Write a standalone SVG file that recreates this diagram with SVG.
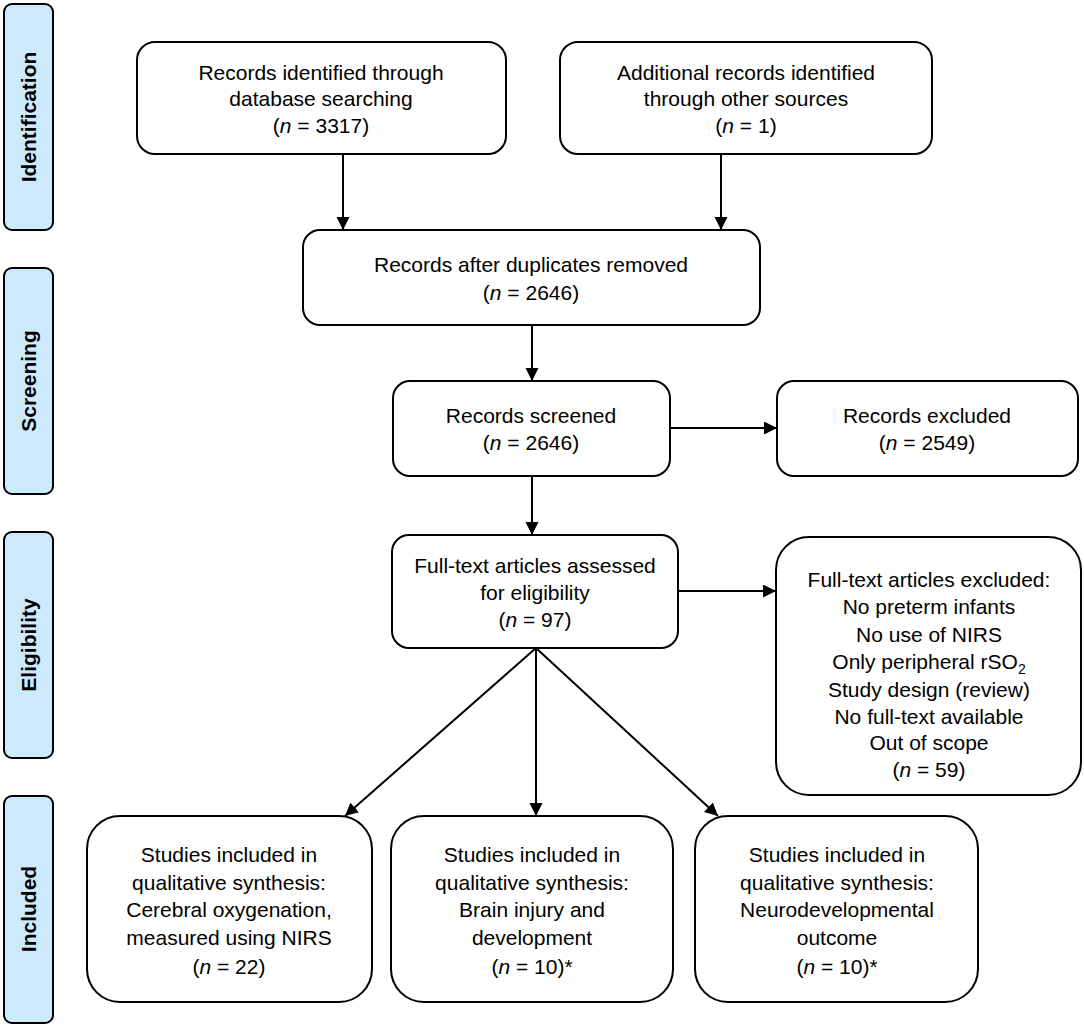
<svg xmlns="http://www.w3.org/2000/svg" width="1084" height="1027" viewBox="0 0 1084 1027">
<defs>
<style>
.phase{fill:#cdeafc;stroke:#000;stroke-width:2}
.box{fill:#fff;stroke:#000;stroke-width:2}
.pt{font-family:"Liberation Sans",Arial,sans-serif;font-size:21px;font-weight:bold;fill:#000;text-anchor:middle}
.t{font-family:"Liberation Sans",Arial,sans-serif;font-size:21px;fill:#000;text-anchor:middle}
.c{stroke:#000;stroke-width:2;fill:none;marker-end:url(#ah)}
</style>
<marker id="ah" markerUnits="userSpaceOnUse" markerWidth="14" markerHeight="14" refX="13" refY="6.5" orient="auto">
<path d="M0,0 L13,6.5 L0,13 z" fill="#000"/>
</marker>
</defs>
<rect width="1084" height="1027" fill="#fff"/>

<g id="phase-identification"><rect class="phase" x="4" y="4" width="49" height="226" rx="8"/><text class="pt" transform="translate(36,117) rotate(-90)">Identification</text></g>
<g id="phase-screening"><rect class="phase" x="4" y="268" width="49" height="226" rx="8"/><text class="pt" transform="translate(36,381) rotate(-90)">Screening</text></g>
<g id="phase-eligibility"><rect class="phase" x="4" y="532" width="49" height="226" rx="8"/><text class="pt" transform="translate(36,645) rotate(-90)">Eligibility</text></g>
<g id="phase-included"><rect class="phase" x="4" y="796" width="49" height="227" rx="8"/><text class="pt" transform="translate(36,909) rotate(-90)">Included</text></g>

<g id="connectors">
<line class="c" x1="343" y1="154" x2="343" y2="230"/>
<line class="c" x1="721" y1="154" x2="721" y2="230"/>
<line class="c" x1="532" y1="325" x2="532" y2="381"/>
<line class="c" x1="670" y1="428" x2="777" y2="428"/>
<line class="c" x1="532" y1="476" x2="532" y2="535"/>
<line class="c" x1="678" y1="591" x2="776" y2="591"/>
<line class="c" x1="536" y1="648" x2="345" y2="816"/>
<line class="c" x1="536" y1="648" x2="536" y2="816"/>
<line class="c" x1="536" y1="648" x2="718" y2="816"/>
</g>

<g id="db-search"><rect class="box" x="137" y="42" width="369" height="112" rx="18"/>
<text class="t" x="321" y="80">Records identified through</text>
<text class="t" x="321" y="106">database searching</text>
<text class="t" x="321" y="133">(<tspan font-style="italic">n</tspan> = 3317)</text></g>

<g id="other-sources"><rect class="box" x="560" y="42" width="372" height="112" rx="18"/>
<text class="t" x="746" y="80">Additional records identified</text>
<text class="t" x="746" y="106">through other sources</text>
<text class="t" x="746" y="133">(<tspan font-style="italic">n</tspan> = 1)</text></g>

<g id="duplicates-removed"><rect class="box" x="303" y="230" width="457" height="95" rx="17"/>
<text class="t" x="531" y="272">Records after duplicates removed</text>
<text class="t" x="531" y="300">(<tspan font-style="italic">n</tspan> = 2646)</text></g>

<g id="screened"><rect class="box" x="393" y="381" width="277" height="95" rx="17"/>
<text class="t" x="531" y="423">Records screened</text>
<text class="t" x="531" y="450">(<tspan font-style="italic">n</tspan> = 2646)</text></g>

<g id="excluded"><rect class="box" x="777" y="381" width="301" height="95" rx="17"/>
<text class="t" x="927" y="423">Records excluded</text>
<text class="t" x="927" y="450">(<tspan font-style="italic">n</tspan> = 2549)</text></g>

<g id="fulltext-assessed"><rect class="box" x="392" y="535" width="286" height="113" rx="17"/>
<text class="t" x="535" y="573">Full-text articles assessed</text>
<text class="t" x="535" y="600">for eligibility</text>
<text class="t" x="535" y="627">(<tspan font-style="italic">n</tspan> = 97)</text></g>

<g id="fulltext-excluded"><rect class="box" x="776" y="537" width="305" height="258" rx="33"/>
<text class="t" x="929" y="587">Full-text articles excluded:</text>
<text class="t" x="929" y="614">No preterm infants</text>
<text class="t" x="929" y="642">No use of NIRS</text>
<text class="t" x="929" y="669">Only peripheral rSO<tspan font-size="14" dy="5">2</tspan></text>
<text class="t" x="929" y="697">Study design (review)</text>
<text class="t" x="929" y="724">No full-text available</text>
<text class="t" x="929" y="750">Out of scope</text>
<text class="t" x="929" y="777">(<tspan font-style="italic">n</tspan> = 59)</text></g>

<g id="included-oxygenation"><rect class="box" x="87" y="816" width="285" height="186" rx="33"/>
<text class="t" x="229" y="862">Studies included in</text>
<text class="t" x="229" y="890">qualitative synthesis:</text>
<text class="t" x="229" y="917">Cerebral oxygenation,</text>
<text class="t" x="229" y="945">measured using NIRS</text>
<text class="t" x="229" y="974">(<tspan font-style="italic">n</tspan> = 22)</text></g>

<g id="included-brain"><rect class="box" x="391" y="816" width="282" height="186" rx="33"/>
<text class="t" x="532" y="862">Studies included in</text>
<text class="t" x="532" y="890">qualitative synthesis:</text>
<text class="t" x="532" y="917">Brain injury and</text>
<text class="t" x="532" y="945">development</text>
<text class="t" x="532" y="974">(<tspan font-style="italic">n</tspan> = 10)*</text></g>

<g id="included-neuro"><rect class="box" x="695" y="816" width="283" height="186" rx="33"/>
<text class="t" x="837" y="862">Studies included in</text>
<text class="t" x="837" y="890">qualitative synthesis:</text>
<text class="t" x="837" y="917">Neurodevelopmental</text>
<text class="t" x="837" y="945">outcome</text>
<text class="t" x="837" y="974">(<tspan font-style="italic">n</tspan> = 10)*</text></g>
</svg>
